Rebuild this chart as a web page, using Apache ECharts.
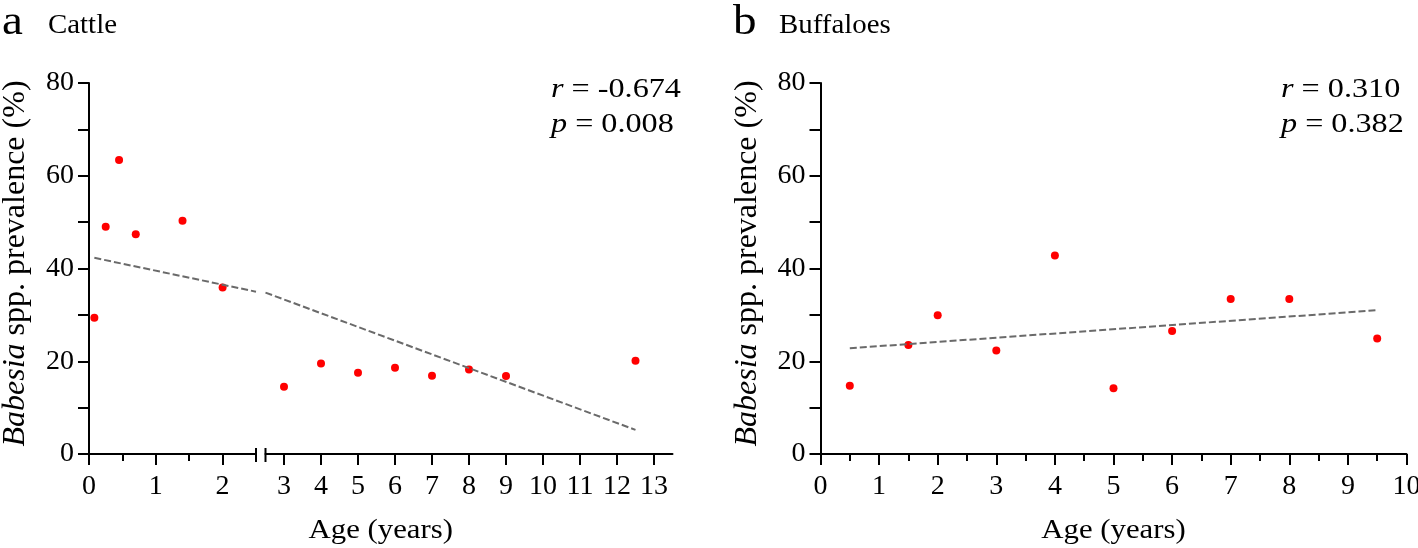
<!DOCTYPE html>
<html>
<head>
<meta charset="utf-8">
<script src="https://cdn.jsdelivr.net/npm/echarts@6/dist/echarts.min.js"></script>
<style>html,body{margin:0;padding:0;background:#fff}#c{width:1418px;height:548px}</style>
</head>
<body>
<div id="c"></div>
<script>
// ---- data ----
const cattleAges = [0.08, 0.25, 0.45, 0.7, 1.4, 2, 3, 4, 5, 6, 7, 8, 9, 12.5];
const cattlePrev = [29.4, 49.0, 63.4, 47.4, 50.3, 35.9, 14.5, 19.5, 17.5, 18.6, 16.9, 18.2, 16.8, 20.1];
const cattleTrendX = [0.08, 2.5, 2.5, 12.5];
const cattleTrendY = [42.3, 35.0, 34.8, 5.2];
const buffaloAges = [0.5, 1.5, 2, 3, 4, 5, 6, 7, 8, 9.5];
const buffaloPrev = [14.7, 23.5, 29.9, 22.3, 42.8, 14.2, 26.5, 33.4, 33.4, 24.9];
const buffaloTrendX = [0.5, 9.5];
const buffaloTrendY = [22.8, 31.0];
const yTicks = [0, 20, 40, 60, 80];
const cattleXTicksA = [0, 1, 2];
const cattleXMinorA = [0.5, 1.5];
const cattleXTicksB = [3, 4, 5, 6, 7, 8, 9, 10, 11, 12, 13];
const buffaloXTicks = [0, 1, 2, 3, 4, 5, 6, 7, 8, 9, 10];
const cattleStats = ['{i|r} = -0.674', '{i|p} = 0.008'];
const buffaloStats = ['{i|r} = 0.310', '{i|p} = 0.382'];
const breakAt = 2.5;

// ---- layout ----
const FONT = 'Liberation Serif';
const TOP = 83, H = 371;
const g1 = {left: 89, top: TOP, width: 167, height: H, outerBoundsMode: 'none'};
const g2 = {left: 265.5, top: TOP, width: 407, height: H, outerBoundsMode: 'none'};
const g3 = {left: 820.5, top: TOP, width: 586, height: H, outerBoundsMode: 'none'};
const black = '#000';
const axisLine = {show: true, lineStyle: {color: black, width: 2}};
const tickFont = {fontFamily: FONT, fontSize: 28, color: black};

function yAxis(gridIndex, show) {
  return {
    type: 'value', gridIndex, min: yTicks[0], max: yTicks[yTicks.length - 1], interval: yTicks[1] - yTicks[0],
    show,
    axisLine, splitLine: {show: false},
    axisTick: {show: true, length: 11, lineStyle: {color: black, width: 2}},
    minorTick: {show: true, splitNumber: 2, length: 11, lineStyle: {color: black, width: 2}},
    axisLabel: Object.assign({margin: 15}, tickFont),
    name: '{i|Babesia} spp. prevalence (%)', nameLocation: 'middle', nameGap: 57, nameRotate: 90,
    nameTextStyle: {fontFamily: FONT, fontSize: 32, color: black, padding: [0, 0, 0, 10],
      rich: {i: {fontFamily: FONT, fontSize: 32, fontStyle: 'italic', color: black}}}
  };
}
function xAxisCustom(gridIndex, min, max, ticks, tickLen, showLine, showLabel) {
  return {
    type: 'value', gridIndex, min, max, position: 'bottom',
    axisLine: showLine ? axisLine : {show: false},
    splitLine: {show: false},
    axisTick: {show: true, length: tickLen, customValues: ticks, lineStyle: {color: black, width: 2}},
    axisLabel: Object.assign({show: showLabel, margin: 19, customValues: ticks}, tickFont)
  };
}

const cattleA = [], cattleB = [];
cattleAges.forEach((a, i) => (a < breakAt ? cattleA : cattleB).push([a, cattlePrev[i]]));
const trendA = [], trendB = [];
cattleTrendX.forEach((x, i) => (i < 2 ? trendA : trendB).push([x, cattleTrendY[i]]));
const buffaloPts = buffaloAges.map((a, i) => [a, buffaloPrev[i]]);
const buffaloTrend = buffaloTrendX.map((x, i) => [x, buffaloTrendY[i]]);

const dot = {color: '#ff0000', opacity: 1};
const dash = {color: '#6a6a6a', width: 2, type: [7, 3]};
function scatter(xi, yi, data) {
  return {type: 'scatter', xAxisIndex: xi, yAxisIndex: yi, data, symbolSize: 8, itemStyle: dot, z: 2};
}
function trend(xi, yi, data) {
  return {type: 'line', xAxisIndex: xi, yAxisIndex: yi, data, symbol: 'none', lineStyle: dash, z: 3, clip: false};
}

const statRich = {i: {fontFamily: FONT, fontSize: 28, fontStyle: 'italic', color: black}};
function txt(x, y, text, size, sx, align) {
  return {type: 'text', x, y, scaleX: sx || 1,
    style: {text, fontFamily: FONT, fontSize: size, fill: black, rich: statRich, align: align || 'left', verticalAlign: 'top'}};
}

const option = {
  animation: false,
  backgroundColor: '#fff',
  grid: [g1, g2, g3],
  xAxis: [
    xAxisCustom(0, 0, breakAt, cattleXTicksA, 11, true, true),
    xAxisCustom(0, 0, breakAt, cattleXMinorA, 7, false, false),
    xAxisCustom(1, breakAt, 13.5, cattleXTicksB, 11, true, true),
    {
      type: 'value', gridIndex: 2, min: buffaloXTicks[0], max: buffaloXTicks[buffaloXTicks.length - 1], interval: 1,
      axisLine, splitLine: {show: false},
      axisTick: {show: true, length: 11, lineStyle: {color: black, width: 2}},
      minorTick: {show: true, splitNumber: 2, length: 7, lineStyle: {color: black, width: 2}},
      axisLabel: Object.assign({margin: 19}, tickFont)
    }
  ],
  yAxis: [yAxis(0, true), yAxis(1, false), yAxis(2, true)],
  series: [
    scatter(0, 0, cattleA), trend(0, 0, trendA),
    scatter(2, 1, cattleB), trend(2, 1, trendB),
    scatter(3, 2, buffaloPts), trend(3, 2, buffaloTrend)
  ],
  graphic: [
    txt(2, 2, 'a', 42, 1.12),
    txt(48, 12, 'Cattle', 27, 1.07),
    txt(733, 2, 'b', 42, 1.12),
    txt(779, 12, 'Buffaloes', 27, 1.07),
    txt(551, 76, cattleStats[0], 28, 1.15),
    txt(551, 111, cattleStats[1], 28, 1.15),
    txt(1281, 76, buffaloStats[0], 28, 1.15),
    txt(1281, 111, buffaloStats[1], 28, 1.15),
    txt((g1.left + g2.left + g2.width) / 2, 517, 'Age (years)', 28, 1.1, 'center'),
    txt(g3.left + g3.width / 2, 517, 'Age (years)', 28, 1.1, 'center'),
    {type: 'line', shape: {x1: g1.left + g1.width, y1: TOP + H - 6, x2: g1.left + g1.width, y2: TOP + H + 8}, style: {stroke: black, lineWidth: 2}},
    {type: 'line', shape: {x1: g2.left, y1: TOP + H - 6, x2: g2.left, y2: TOP + H + 8}, style: {stroke: black, lineWidth: 2}}
  ]
};
const chart = echarts.init(document.getElementById('c'), null, {renderer: 'canvas'});
chart.setOption(option);
</script>
</body>
</html>
